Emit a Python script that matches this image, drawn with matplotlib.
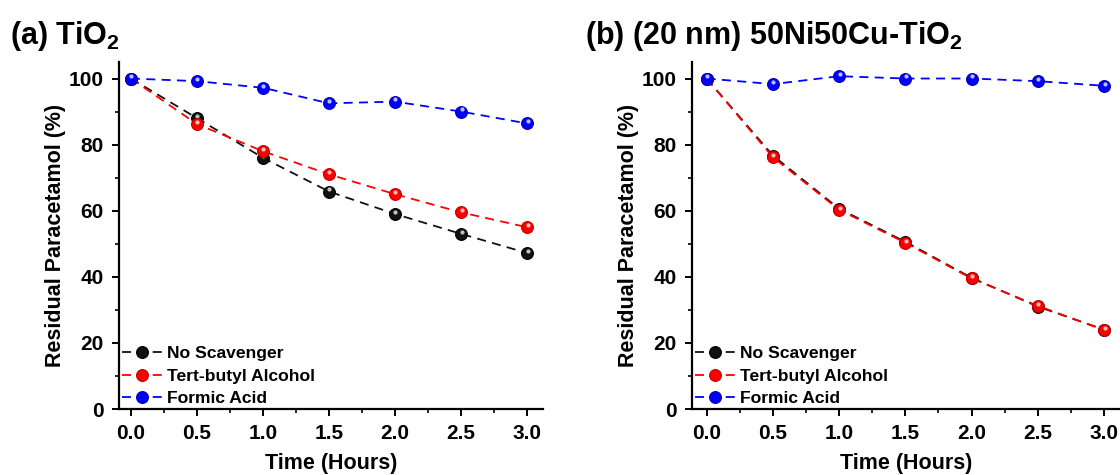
import matplotlib
matplotlib.use('Agg')

import matplotlib.pyplot as plt
from matplotlib.ticker import MultipleLocator
from matplotlib.transforms import offset_copy

plt.rcParams['font.family'] = ['Liberation Sans', 'DejaVu Sans']
plt.rcParams['font.weight'] = 'bold'
plt.rcParams['mathtext.fontset'] = 'custom'
plt.rcParams['mathtext.bf'] = 'Liberation Sans:bold'
plt.rcParams['mathtext.rm'] = 'Liberation Sans:bold'

time_h = [0.0, 0.5, 1.0, 1.5, 2.0, 2.5, 3.0]

# (a) TiO2
tio2_none = [100, 88.0, 76.0, 65.8, 59.0, 53.0, 47.2]
tio2_tba = [100, 86.2, 78.0, 71.0, 65.0, 59.5, 55.0]
tio2_fa = [100, 99.2, 97.2, 92.5, 93.0, 90.0, 86.4]

# (b) 50Ni50Cu-TiO2
nicu_none = [100, 76.7, 60.6, 50.6, 39.7, 31.0, 24.0]
nicu_tba = [100, 76.2, 60.3, 50.3, 39.5, 31.2, 23.9]
nicu_fa = [100, 98.3, 100.7, 100.0, 100.0, 99.2, 97.8]

labels = ['No Scavenger', 'Tert-butyl Alcohol', 'Formic Acid']
colors = ['#111111', '#ff0000', '#0000ff']
edges = ['#000000', '#c00000', '#0000b0']

fig = plt.figure(figsize=(11.2, 4.75), dpi=100)
ax_a = fig.add_axes([0.1063, 0.1389, 0.3785, 0.7306])
ax_b = fig.add_axes([0.6179, 0.1389, 0.3821, 0.7306])


def draw_panel(ax, series, xmin, xmax):
    for vals, lab, c, ec in zip(series, labels, colors, edges):
        ax.plot(time_h, vals, color=c, lw=1.3, dashes=(5, 3.5),
                marker='o', ms=8.5, mfc=c, mec=ec, mew=0.8, label=lab)
        # small glossy highlight on each ball
        hl = offset_copy(ax.transData, fig=fig, x=0.3, y=1.6, units='points')
        ax.plot(time_h, vals, ls='none', marker='o', ms=3.0, mfc='white',
                mec='none', alpha=0.75, transform=hl)

    ax.set_xlim(xmin, xmax)
    ax.set_ylim(0, 105)
    ax.xaxis.set_major_locator(MultipleLocator(0.5))
    ax.xaxis.set_minor_locator(MultipleLocator(0.25))
    ax.yaxis.set_major_locator(MultipleLocator(20))
    ax.yaxis.set_minor_locator(MultipleLocator(10))
    ax.xaxis.set_major_formatter('{x:.1f}')
    for s in ['top', 'right']:
        ax.spines[s].set_visible(False)
    for s in ['left', 'bottom']:
        ax.spines[s].set_linewidth(1.6)
    ax.tick_params(which='major', direction='out', length=5, width=1.4,
                   labelsize=15, pad=6)
    ax.tick_params(which='minor', direction='out', length=3, width=1.2)
    ax.set_xlabel('Time (Hours)', fontsize=15.5, fontweight='bold', labelpad=7)
    ax.set_ylabel('Residual Paracetamol (%)', fontsize=15.5, fontweight='bold',
                  labelpad=2)
    leg = ax.legend(loc='lower left', frameon=False, fontsize=12.6,
                    handlelength=2.3, handletextpad=0.3, labelspacing=0.42,
                    borderaxespad=0.15, borderpad=0.0)
    for t in leg.get_texts():
        t.set_fontweight('bold')


draw_panel(ax_a, [tio2_none, tio2_tba, tio2_fa], -0.09, 3.12)
draw_panel(ax_b, [nicu_none, nicu_tba, nicu_fa], -0.11, 3.12)

fig.text(0.009, 0.925, '(a) TiO$_\\mathbf{2}$', fontsize=22, fontweight='bold',
         va='center')
fig.text(0.522, 0.925, '(b) (20 nm) 50Ni50Cu-TiO$_\\mathbf{2}$', fontsize=22,
         fontweight='bold', va='center')

fig.savefig('out.png', dpi=100)
